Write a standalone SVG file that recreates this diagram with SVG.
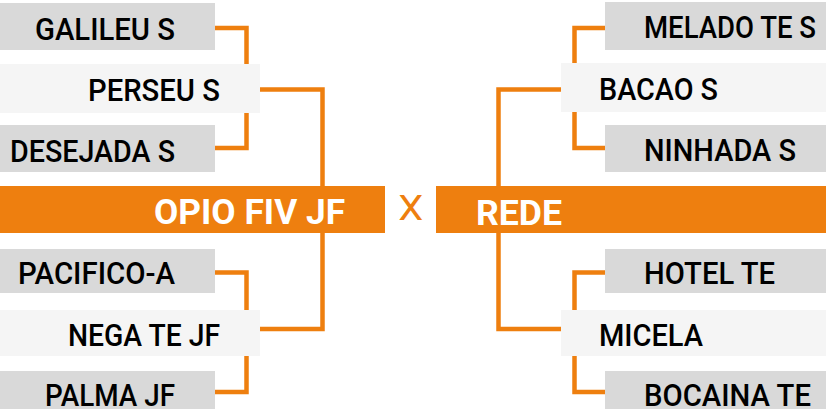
<svg xmlns="http://www.w3.org/2000/svg" width="826" height="409" viewBox="0 0 826 409">
<style>
.outer{fill:#D9D9D9}
.mid{fill:#F5F5F5}
.bar{fill:#EE7F0F}
.t{font-family:Roboto,"Liberation Sans",sans-serif;font-weight:500;font-size:32px;fill:#000}
.tb{font-family:Roboto,"Liberation Sans",sans-serif;font-weight:700;font-size:35px;fill:#fff}
.e{text-anchor:end}
.conn{fill:none;stroke:#EE7F0F;stroke-width:4.5}
</style>
<rect width="826" height="409" fill="#fff"/>
<g id="connectors">
<path class="conn" d="M215,28 H246.5 V148 H215"/>
<path class="conn" d="M260,89.5 H322.5 V329 H260"/>
<path class="conn" d="M215,272.5 H246.5 V392 H215"/>
<path class="conn" d="M605,28 H574.5 V148 H605"/>
<path class="conn" d="M561,89.5 H498.5 V329 H561"/>
<path class="conn" d="M605,272.5 H574.5 V392 H605"/>
</g>
<g id="galileu"><rect class="outer" x="0" y="3" width="215" height="47"/><text class="t e" x="175" y="40" textLength="140" lengthAdjust="spacingAndGlyphs">GALILEU S</text></g>
<g id="perseu"><rect class="mid" x="0" y="64" width="260" height="49"/><text class="t e" x="220" y="100.5" textLength="132" lengthAdjust="spacingAndGlyphs">PERSEU S</text></g>
<g id="desejada"><rect class="outer" x="0" y="125" width="215" height="47"/><text class="t e" x="175" y="161.5" textLength="165" lengthAdjust="spacingAndGlyphs">DESEJADA S</text></g>
<g id="opio"><rect class="bar" x="0" y="186" width="385" height="47"/><text class="tb e" x="345" y="224" textLength="191" lengthAdjust="spacingAndGlyphs">OPIO FIV JF</text></g>
<g id="pacifico"><rect class="outer" x="0" y="249" width="215" height="44"/><text class="t e" x="175" y="284" textLength="157" lengthAdjust="spacingAndGlyphs">PACIFICO-A</text></g>
<g id="nega"><rect class="mid" x="0" y="310" width="260" height="46"/><text class="t e" x="220" y="345.5" textLength="152" lengthAdjust="spacingAndGlyphs">NEGA TE JF</text></g>
<g id="palma"><rect class="outer" x="0" y="371" width="215" height="40"/><text class="t e" x="175" y="406" textLength="130" lengthAdjust="spacingAndGlyphs">PALMA JF</text></g>
<g id="versus"><text x="410.8" y="220" text-anchor="middle" font-family="Roboto,'Liberation Sans',sans-serif" font-weight="400" font-size="35" fill="#EE7F0F" textLength="25" lengthAdjust="spacingAndGlyphs">X</text></g>
<g id="melado"><rect class="outer" x="605" y="2" width="221" height="48"/><text class="t" x="644" y="37.7" textLength="172" lengthAdjust="spacingAndGlyphs">MELADO TE S</text></g>
<g id="bacao"><rect class="mid" x="561" y="63" width="265" height="49"/><text class="t" x="599" y="100" textLength="119" lengthAdjust="spacingAndGlyphs">BACAO S</text></g>
<g id="ninhada"><rect class="outer" x="605" y="125" width="221" height="47"/><text class="t" x="644" y="160.7" textLength="152" lengthAdjust="spacingAndGlyphs">NINHADA S</text></g>
<g id="rede"><rect class="bar" x="436" y="186" width="390" height="47"/><text class="tb" x="476" y="225" textLength="86" lengthAdjust="spacingAndGlyphs">REDE</text></g>
<g id="hotel"><rect class="outer" x="605" y="249" width="221" height="44"/><text class="t" x="644" y="283.5" textLength="131" lengthAdjust="spacingAndGlyphs">HOTEL TE</text></g>
<g id="micela"><rect class="mid" x="561" y="310" width="265" height="46"/><text class="t" x="599" y="345.5" textLength="104" lengthAdjust="spacingAndGlyphs">MICELA</text></g>
<g id="bocaina"><rect class="outer" x="605" y="371" width="221" height="40"/><text class="t" x="644" y="406" textLength="167" lengthAdjust="spacingAndGlyphs">BOCAINA TE</text></g>
</svg>
